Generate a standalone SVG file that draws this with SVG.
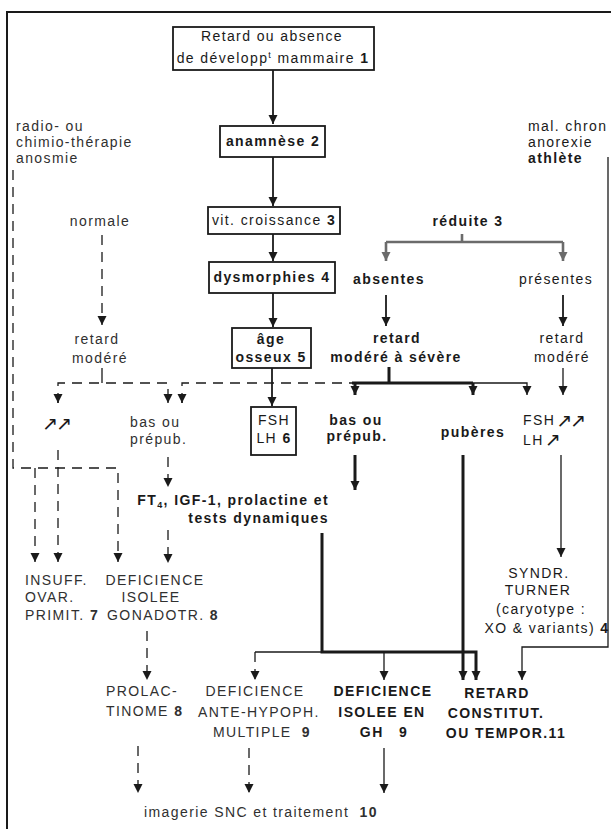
<svg xmlns="http://www.w3.org/2000/svg" width="611" height="829" viewBox="0 0 611 829">
<style>
text { font-family: "Liberation Sans", Arial, sans-serif; font-size: 14px; letter-spacing: 1.4px; fill: #1a1a1a; }
.b { font-weight: bold; }
.l { fill: #303030; }
.m { text-anchor: middle; }
.e { text-anchor: end; }
.sym { font-family: "DejaVu Sans", sans-serif; letter-spacing: -2px; font-size: 19px; font-weight: normal; }
.box { fill: #ffffff; stroke: #1a1a1a; stroke-width: 1.8; }
.c { fill: none; stroke: #1a1a1a; stroke-width: 1.8; }
.thin { stroke-width: 1.3; }
.thick { stroke-width: 3; }
.d { stroke-dasharray: 10 7; }
.g { stroke: #6b6b6b; stroke-width: 2.6; }
.frame { fill: none; stroke: #1a1a1a; stroke-width: 2; }
</style>
<defs>
<marker id="a" markerUnits="userSpaceOnUse" markerWidth="10" markerHeight="10" refX="9" refY="5" orient="auto"><path d="M0,0.5 L9,5 L0,9.5 z" fill="#1a1a1a"/></marker>
<marker id="ag" markerUnits="userSpaceOnUse" markerWidth="10" markerHeight="10" refX="9" refY="5" orient="auto"><path d="M0,0.5 L9,5 L0,9.5 z" fill="#6b6b6b"/></marker>
</defs>

<path class="frame" d="M7,829 L7,12 L611,12"/>

<g id="connectors">
  <path class="c" d="M273,70 V124" marker-end="url(#a)"/>
  <path class="c" d="M273,157 V206" marker-end="url(#a)"/>
  <path class="c" d="M273,234 V261" marker-end="url(#a)"/>
  <path class="c" d="M273,293 V327" marker-end="url(#a)"/>
  <path class="c" d="M272,368 V406" marker-end="url(#a)"/>
  <path class="c g" d="M462,234 V242"/>
  <path class="c g" d="M386,242 H563"/>
  <path class="c g" d="M386,242 V261" marker-end="url(#ag)"/>
  <path class="c g" d="M563,242 V261" marker-end="url(#ag)"/>
  <path class="c" d="M386,295 V326" marker-end="url(#a)"/>
  <path class="c" d="M563,295 V326" marker-end="url(#a)"/>
  <path class="c thin d" d="M102,235 V325" marker-end="url(#a)"/>
  <path class="c thin" d="M102,368 V383"/>
  <path class="c thin d" d="M58,403 V383 H168 V403" />
  <path class="c thin" d="M58,396 V403" marker-end="url(#a)"/>
  <path class="c thin" d="M168,396 V403" marker-end="url(#a)"/>
  <path class="c thick" d="M389,367 V383"/>
  <path class="c thin d" d="M182,403 V383 H352"/>
  <path class="c thin" d="M182,396 V403" marker-end="url(#a)"/>
  <path class="c thick" d="M352,383 H473"/>
  <path class="c thin" d="M473,383 H527 V395" marker-end="url(#a)"/>
  <path class="c thick" d="M355,383 V395" marker-end="url(#a)"/>
  <path class="c thick" d="M473,383 V395" marker-end="url(#a)"/>
  <path class="c thin" d="M563,368 V395" marker-end="url(#a)"/>
  <path class="c thin d" d="M13,170 V468 H118 V562" marker-end="url(#a)"/>
  <path class="c thin d" d="M35,468 V562" marker-end="url(#a)"/>
  <path class="c thin d" d="M58,450 V562" marker-end="url(#a)"/>
  <path class="c thin d" d="M168,457 V487" marker-end="url(#a)"/>
  <path class="c thin d" d="M168,530 V563" marker-end="url(#a)"/>
  <path class="c thick" d="M355,455 V490" marker-end="url(#a)"/>
  <path class="c thick" d="M463,455 V680" marker-end="url(#a)"/>
  <path class="c thick" d="M322,533 V652 H476 V680" marker-end="url(#a)"/>
  <path class="c thin" d="M322,652 H255"/>
  <path class="c thin d" d="M255,652 V680" marker-end="url(#a)"/>
  <path class="c thin" d="M384,652 V680" marker-end="url(#a)"/>
  <path class="c thin" d="M608,157 V647 H522 V680" marker-end="url(#a)"/>
  <path class="c thin" d="M561,455 V557" marker-end="url(#a)"/>
  <path class="c thin d" d="M147,631 V680" marker-end="url(#a)"/>
  <path class="c thin d" d="M138,746 V793" marker-end="url(#a)"/>
  <path class="c thin d" d="M249,748 V793" marker-end="url(#a)"/>
  <path class="c thin" d="M384,748 V793" marker-end="url(#a)"/>
</g>

<g id="n1">
  <rect class="box" x="173" y="27" width="201" height="43"/>
  <text class="m" x="272" y="41">Retard ou absence</text>
  <text class="m" x="273" y="63">de développ<tspan font-size="9" dy="-5">t</tspan><tspan dy="5"> mammaire </tspan><tspan class="b">1</tspan></text>
</g>
<g id="n2">
  <rect class="box" x="220" y="126" width="105" height="31"/>
  <text class="m b" x="273" y="146">anamnèse 2</text>
</g>
<g id="n3">
  <rect class="box" x="208" y="207" width="132" height="27"/>
  <text class="m" x="274" y="225">vit. croissance <tspan class="b">3</tspan></text>
</g>
<g id="n4">
  <rect class="box" x="209" y="262" width="126" height="31"/>
  <text class="m b" x="272" y="282">dysmorphies 4</text>
</g>
<g id="n5">
  <rect class="box" x="232" y="328" width="79" height="40"/>
  <text class="m b" x="271" y="344">âge</text>
  <text class="m b" x="271" y="362">osseux 5</text>
</g>
<g id="n6">
  <rect class="box" x="251" y="407" width="45" height="48"/>
  <text class="m" x="274" y="425">FSH</text>
  <text class="m" x="274" y="443">LH <tspan class="b">6</tspan></text>
</g>

<g id="radio">
  <text class="l" x="16" y="131">radio- ou</text>
  <text class="l" x="16" y="147">chimio-thérapie</text>
  <text class="l" x="16" y="163">anosmie</text>
</g>
<g id="malchron">
  <text x="528" y="131">mal. chron</text>
  <text x="528" y="147">anorexie</text>
  <text class="b" x="528" y="163">athlète</text>
</g>
<g id="normale"><text class="l m" x="100" y="226">normale</text></g>
<g id="reduite"><text class="m b" x="468" y="226">réduite 3</text></g>
<g id="absentes"><text class="m b" x="389" y="284">absentes</text></g>
<g id="presentes"><text class="m" x="556" y="284">présentes</text></g>
<g id="retard-l">
  <text class="l m" x="97" y="344">retard</text>
  <text class="l m" x="100" y="363">modéré</text>
</g>
<g id="retard-c">
  <text class="m b" x="397" y="343">retard</text>
  <text class="m b" x="396" y="362">modéré à sévère</text>
</g>
<g id="retard-r">
  <text class="m" x="562" y="343">retard</text>
  <text class="m" x="562" y="362">modéré</text>
</g>
<g id="up-l"><text class="sym" x="42" y="430">↗↗</text></g>
<g id="bas-l">
  <text class="l" x="130" y="427">bas ou</text>
  <text class="l" x="130" y="444">prépub.</text>
</g>
<g id="bas-c">
  <text class="m b" x="356" y="425">bas ou</text>
  <text class="m b" x="357" y="441">prépub.</text>
</g>
<g id="puberes"><text class="m b" x="473" y="437">pubères</text></g>
<g id="fsh-r">
  <text x="523" y="425">FSH<tspan class="sym" dx="1" dy="2">↗↗</tspan></text>
  <text x="523" y="445">LH<tspan class="sym" dx="1" dy="1">↗</tspan></text>
</g>
<g id="ft4">
  <text class="e b" x="329" y="505">FT<tspan font-size="9" dy="3">4</tspan><tspan dy="-3">, IGF-1, prolactine et</tspan></text>
  <text class="e b" x="329" y="523">tests dynamiques</text>
</g>
<g id="insuff">
  <text class="l" x="25" y="585">INSUFF.</text>
  <text class="l" x="25" y="602">OVAR.</text>
  <text class="l" x="25" y="620">PRIMIT. <tspan class="b">7</tspan></text>
</g>
<g id="gonadotr">
  <text class="l m" x="155" y="585">DEFICIENCE</text>
  <text class="l m" x="151" y="602">ISOLEE</text>
  <text class="l m" x="163" y="620">GONADOTR. <tspan class="b">8</tspan></text>
</g>
<g id="turner">
  <text class="m" x="539" y="578">SYNDR.</text>
  <text class="m" x="538" y="595">TURNER</text>
  <text class="m" x="541" y="614">(caryotype :</text>
  <text class="m" x="547" y="633">XO &amp; variants) <tspan class="b">4</tspan></text>
</g>
<g id="prolac">
  <text class="l" x="106" y="696">PROLAC-</text>
  <text class="l" x="106" y="716">TINOME <tspan class="b">8</tspan></text>
</g>
<g id="antehypo">
  <text class="l m" x="255" y="696">DEFICIENCE</text>
  <text class="l m" x="259" y="717">ANTE-HYPOPH.</text>
  <text class="l m" x="262" y="737">MULTIPLE <tspan class="b" dx="5">9</tspan></text>
</g>
<g id="gh">
  <text class="m b" x="383" y="696">DEFICIENCE</text>
  <text class="m b" x="382" y="717">ISOLEE EN</text>
  <text class="m b" x="384" y="737">GH <tspan dx="10">9</tspan></text>
</g>
<g id="constit">
  <text class="m b" x="497" y="698">RETARD</text>
  <text class="m b" x="496" y="718">CONSTITUT.</text>
  <text class="m b" x="506" y="738">OU TEMPOR.11</text>
</g>
<g id="imagerie">
  <text class="l" x="144" y="817" letter-spacing="1">imagerie SNC et traitement <tspan class="b" dx="5">10</tspan></text>
</g>
</svg>
